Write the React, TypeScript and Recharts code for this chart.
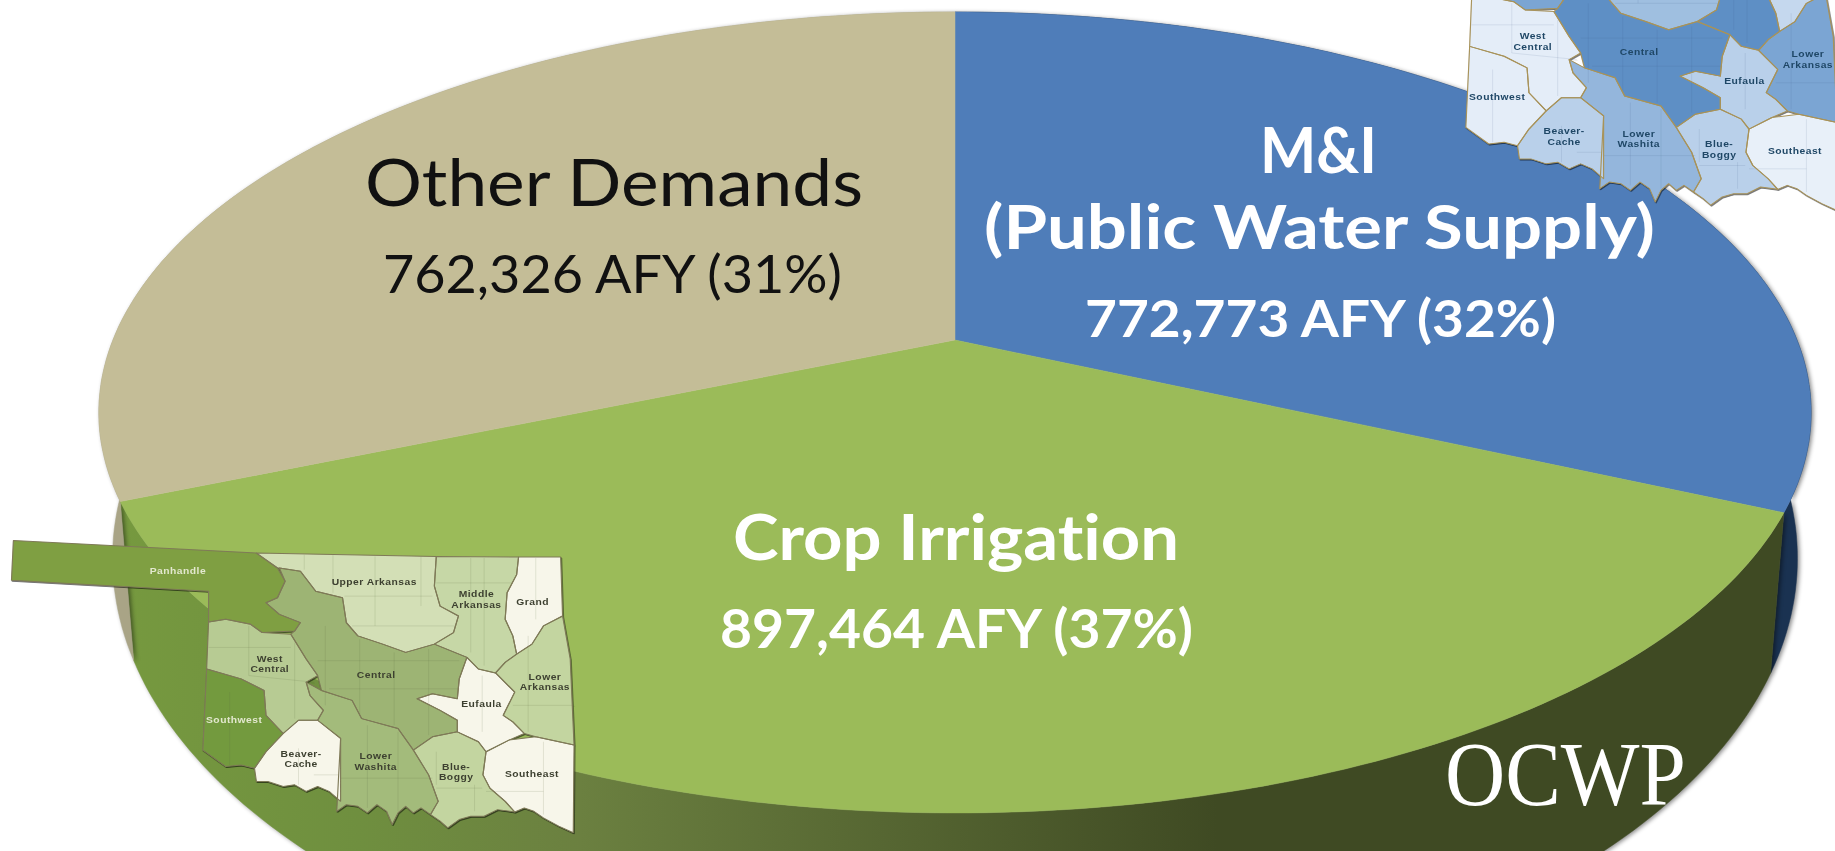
import React from "react";
import { PieChart, Pie } from "recharts";

const categories = ["M&I", "Crop Irrigation", "Other Demands"];
const afyValues = [772773, 897464, 762326];
const topColors = ["#4f7db9", "#9bbb59", "#c4bd97"];
const wallColors = ["#1a3251", "url(#cropWall)", "#a9a486"];
const croppedInBlueMap = ["Panhandle", "Upper Arkansas", "Middle Arkansas", "Grand"];

type Line = { text: string; x: number; y: number; w: number; size: number; weight: number; color: string };
const labelLines: Line[][] = [
  [
    { text: "M&I", x: 1260, y: 173, w: 117, size: 63, weight: 700, color: "#ffffff" },
    { text: "(Public Water Supply)", x: 984, y: 249, w: 671, size: 62, weight: 700, color: "#ffffff" },
    { text: "772,773 AFY (32%)", x: 1085, y: 337, w: 471, size: 52, weight: 700, color: "#ffffff" },
  ],
  [
    { text: "Crop Irrigation", x: 733, y: 560, w: 446, size: 63, weight: 700, color: "#ffffff" },
    { text: "897,464 AFY (37%)", x: 720, y: 648, w: 473, size: 53, weight: 700, color: "#ffffff" },
  ],
  [
    { text: "Other Demands", x: 365, y: 206, w: 498, size: 65, weight: 400, color: "#111111" },
    { text: "762,326 AFY (31%)", x: 383, y: 293, w: 459, size: 52, weight: 400, color: "#111111" },
  ],
];

const CX = 955;
const CY = 340;
const RADIUS = 842;
const Y_RATIO = 0.46;
const TILT = 0.181;

function project(deg: number, r: number) {
  const a = (deg * Math.PI) / 180;
  const u = Math.cos(a);
  const v = -Math.sin(a);
  const w = 1 - TILT * v;
  return { X: (r * u) / w, Y: (r * Y_RATIO * v) / w };
}

function anglesBetween(start: number, end: number) {
  const out: number[] = [];
  const steps = Math.max(2, Math.ceil(Math.abs(end - start)));
  for (let i = 0; i <= steps; i++) out.push(start + ((end - start) * i) / steps);
  return out;
}

function TopSector(props: any) {
  const { cx, cy, outerRadius, startAngle, endAngle, fill } = props;
  const rim = anglesBetween(startAngle, endAngle).map((d) => {
    const p = project(d, outerRadius);
    return `${(cx + p.X).toFixed(1)},${(cy + p.Y).toFixed(1)}`;
  });
  return <path d={`M${cx},${cy}L${rim.join("L")}Z`} fill={fill} stroke={fill} strokeWidth={0.5} />;
}

function WallSector(props: any) {
  const { cx, cy, outerRadius, startAngle, endAngle, fill } = props;
  const angles = anglesBetween(startAngle, endAngle);
  const top = angles.map((d) => {
    const p = project(d, outerRadius);
    return `${(cx + p.X).toFixed(1)},${(cy + p.Y).toFixed(1)}`;
  });
  const bottom = angles
    .slice()
    .reverse()
    .map((d) => {
      const p = project(d, outerRadius);
      return `${(cx + p.X * 0.984).toFixed(1)},${(cy + 218 + (p.Y - 72) * 1.145).toFixed(1)}`;
    });
  return (
    <path
      d={`M${top.join("L")}L${bottom.join("L")}Z`}
      fill={fill}
      stroke={fill}
      strokeWidth={0.5}
      style={{ filter: "drop-shadow(2px 1px 2px rgba(0,0,0,0.45))" }}
    />
  );
}

function SliceLabel(props: any) {
  const lines: Line[] = labelLines[props.index];
  return (
    <g>
      {lines.map((l) => (
        <text
          key={l.text}
          x={l.x}
          y={l.y}
          fontFamily="Lato, 'Noto Sans', sans-serif"
          fontSize={l.size}
          fontWeight={l.weight}
          fill={l.color}
          textLength={l.w}
          lengthAdjust="spacingAndGlyphs"
          style={{ fontVariantLigatures: "none" }}
        >
          {l.text}
        </text>
      ))}
    </g>
  );
}

type Region = { name: string; green: string; blue: string; pts: number[]; label: [string, number, number][] };
const regions: Region[] = [
  { name: "Panhandle", green: "#7f9f42", blue: "#7ba5d3", label: [["Panhandle", 465, 164]],
    pts: [35,62,670,100,725,145,745,185,725,235,695,250,730,285,785,310,770,335,685,340,655,315,590,300,545,308,545,215,30,182] },
  { name: "Upper Arkansas", green: "#d3dfb6", blue: "#9fbfe0", label: [["Upper Arkansas", 978, 196]],
    pts: [670,100,1140,110,1135,200,1150,260,1198,290,1185,340,1135,375,1060,400,1000,375,935,350,905,310,895,235,825,215,785,155,730,145,725,145] },
  { name: "Middle Arkansas", green: "#c6d7a6", blue: "#5e8fc5", label: [["Middle", 1245, 234], ["Arkansas", 1245, 266]],
    pts: [1140,110,1355,112,1350,165,1325,220,1320,300,1340,350,1350,405,1320,430,1295,462,1250,450,1220,415,1135,375,1185,340,1198,290,1150,260,1135,200] },
  { name: "Grand", green: "#f7f6ea", blue: "#c5d8ee", label: [["Grand", 1392, 258]],
    pts: [1355,112,1465,112,1470,290,1420,320,1390,375,1350,405,1340,350,1320,300,1325,220,1350,165] },
  { name: "Lower Arkansas", green: "#c3d5a0", blue: "#7ba5d3", label: [["Lower", 1424, 483], ["Arkansas", 1424, 515]],
    pts: [1470,290,1490,420,1500,680,1400,655,1370,645,1340,610,1315,590,1345,520,1295,462,1320,430,1350,405,1390,375,1420,320] },
  { name: "Eufaula", green: "#f7f6ea", blue: "#b9d0ea", label: [["Eufaula", 1258, 565]],
    pts: [1220,415,1250,450,1295,462,1345,520,1315,590,1340,610,1370,645,1330,665,1270,700,1250,670,1195,640,1195,605,1150,575,1090,540,1130,525,1195,540,1200,480] },
  { name: "Southeast", green: "#f7f6ea", blue: "#e8f0f9", label: [["Southeast", 1390, 775]],
    pts: [1270,700,1330,665,1400,655,1500,680,1498,945,1460,925,1420,900,1395,880,1370,870,1345,882,1320,850,1280,810,1262,770] },
  { name: "Blue-Boggy", green: "#c3d5a0", blue: "#b9d0ea", label: [["Blue-", 1192, 754], ["Boggy", 1192, 786]],
    pts: [1080,695,1130,655,1195,640,1250,670,1270,700,1262,770,1280,810,1320,850,1345,882,1300,875,1265,895,1230,895,1200,905,1170,930,1150,910,1125,890,1145,850,1120,770] },
  { name: "Lower Washita", green: "#a3bb7b", blue: "#94b6dc", label: [["Lower", 982, 723], ["Washita", 982, 755]],
    pts: [800,490,840,515,920,545,945,600,1040,630,1080,695,1120,770,1145,850,1125,890,1100,870,1080,885,1060,865,1040,885,1025,920,1010,880,985,860,960,885,935,865,905,860,880,880,890,660,830,605,845,575,810,530] },
  { name: "Central", green: "#9db474", blue: "#5e8fc5", label: [["Central", 983, 476]],
    pts: [760,345,770,335,785,310,730,285,695,250,725,235,745,185,730,145,785,155,825,215,895,235,905,310,935,350,1000,375,1060,400,1135,375,1220,415,1200,480,1195,540,1130,525,1090,540,1150,575,1195,605,1195,640,1130,655,1080,695,1040,630,945,600,920,545,840,515,830,470,800,420] },
  { name: "West Central", green: "#b7cb93", blue: "#e4edf8", label: [["West", 705, 428], ["Central", 705, 460]],
    pts: [545,308,590,300,655,315,685,340,760,345,800,420,830,470,800,490,810,530,845,575,830,605,780,605,740,645,695,590,690,515,630,480,540,450] },
  { name: "Southwest", green: "#739a3e", blue: "#e4edf8", label: [["Southwest", 612, 612]],
    pts: [540,450,630,480,690,515,695,590,740,645,695,700,665,750,630,740,590,745,530,695] },
  { name: "Beaver-Cache", green: "#f7f6ea", blue: "#b9d0ea", label: [["Beaver-", 787, 715], ["Cache", 787, 747]],
    pts: [740,645,780,605,830,605,890,660,890,850,860,820,830,805,800,820,770,800,740,805,700,790,670,790,665,750,695,700] },
];

function pointsOf(pts: number[]) {
  const out: string[] = [];
  for (let i = 0; i < pts.length; i += 2) out.push(`${pts[i]},${pts[i + 1]}`);
  return out.join(" ");
}

const countyLines = [
  "795,105 795,150", "870,105 870,220", "980,110 980,320", "1100,110 1100,260", "1230,115 1230,400", "1265,115 1265,440",
  "900,230 1130,230", "920,320 1190,320", "1140,190 1340,190", "1400,115 1400,300",
  "650,320 650,470", "770,370 770,600", "545,385 760,385", "650,470 820,490", "850,320 850,560", "940,360 940,590",
  "1030,400 1030,620", "1120,390 1120,650", "830,425 1200,425", "860,510 1200,510", "960,620 960,870", "1040,640 1040,880",
  "890,780 1130,780", "1140,700 1140,800", "1240,800 1240,880", "1140,810 1260,810", "1420,670 1420,890", "1270,820 1420,820",
  "1380,350 1380,640", "1340,560 1500,560", "780,690 780,800", "820,770 885,770", "600,520 600,740", "1260,470 1260,640",
];

function RegionMap({ transform, tone, border, ink, grid }: { transform: string; tone: "green" | "blue"; border: string; ink: string; grid: string }) {
  const labelled = regions.filter((r) => tone === "green" || !croppedInBlueMap.includes(r.name));
  return (
    <g transform={transform} style={{ filter: "drop-shadow(2px 3px 2px rgba(0,0,0,0.55))" }}>
      {regions.map((r) => (
        <polygon key={r.name} points={pointsOf(r.pts)} fill={r[tone]} stroke="none" />
      ))}
      {countyLines.map((l) => (
        <polyline key={l} points={l} fill="none" stroke={grid} strokeWidth={1.5} />
      ))}
      {regions.map((r) => (
        <polygon key={r.name + "b"} points={pointsOf(r.pts)} fill="none" stroke={border} strokeWidth={3} strokeLinejoin="round" />
      ))}
      {labelled.map((r) =>
        r.label.map(([t, x, y]) => (
          <text
            key={t + x}
            x={x}
            y={y}
            textAnchor="middle"
            fontFamily="'Liberation Sans', Arial, sans-serif"
            fontSize={27}
            fontWeight={700}
            letterSpacing={1.2}
            fill={r.name === "Panhandle" || r.name === "Southwest" ? (tone === "green" ? "#e3e8cf" : ink) : ink}
          >
            {t}
          </text>
        ))
      )}
    </g>
  );
}

const chartData = categories.map((name, i) => ({ name, value: afyValues[i], fill: topColors[i] }));
const wallData = categories.map((name, i) => ({ name, value: afyValues[i], fill: wallColors[i] }));

export default function App() {
  return (
    <div style={{ position: "fixed", left: 0, top: 0, width: 1835, height: 851, background: "#ffffff", overflow: "hidden" }}>
      <svg width={0} height={0} style={{ position: "absolute" }}>
        <defs>
          <linearGradient id="cropWall" gradientUnits="userSpaceOnUse" x1="120" y1="0" x2="1300" y2="0">
            <stop offset="0" stopColor="#76993f" />
            <stop offset="0.2" stopColor="#6f8f3f" />
            <stop offset="0.39" stopColor="#6b8040" />
            <stop offset="0.93" stopColor="#3f4a23" />
            <stop offset="1" stopColor="#3f4a23" />
          </linearGradient>
        </defs>
      </svg>
      <div style={{ position: "absolute", left: 0, top: 0 }}>
        <PieChart width={1835} height={851} margin={{ top: 0, right: 0, bottom: 0, left: 0 }}>
          <Pie
            data={wallData}
            dataKey="value"
            cx={CX}
            cy={CY}
            outerRadius={RADIUS}
            startAngle={90}
            endAngle={-270}
            stroke="none"
            shape={WallSector}
            isAnimationActive={false}
            legendType="none"
          />
          <Pie
            data={chartData}
            dataKey="value"
            nameKey="name"
            cx={CX}
            cy={CY}
            outerRadius={RADIUS}
            startAngle={90}
            endAngle={-270}
            stroke="none"
            shape={TopSector}
            label={SliceLabel}
            labelLine={false}
            isAnimationActive={false}
          />
        </PieChart>
      </div>
      <svg width={1835} height={851} style={{ position: "absolute", left: 0, top: 0, pointerEvents: "none" }}>
        <RegionMap transform="translate(0,520) scale(0.3827,0.331)" tone="green" border="#7f7a58" ink="#3d4030" grid="rgba(90,100,60,0.28)" />
        <RegionMap transform="translate(1263,-102.6) scale(0.3827,0.331)" tone="blue" border="#a8935a" ink="#1f4766" grid="rgba(60,90,130,0.22)" />
        <text
          x={1445}
          y={805}
          fontFamily="'Liberation Serif', serif"
          fontSize={92}
          fill="#ffffff"
          textLength={241}
          lengthAdjust="spacingAndGlyphs"
        >
          OCWP
        </text>
      </svg>
    </div>
  );
}
